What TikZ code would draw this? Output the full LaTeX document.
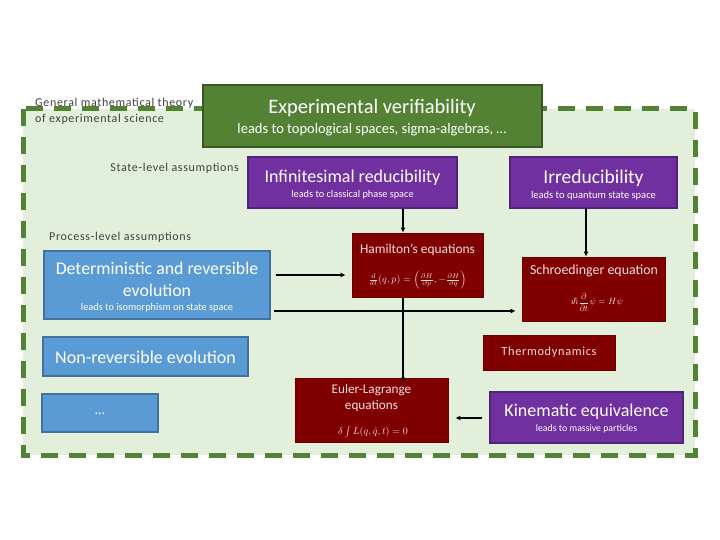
\documentclass[tikz,border=0pt]{standalone}
\usepackage{fontspec}
\setmainfont{Carlito}
\newfontfamily\spacedfont{Carlito}[LetterSpace=5.5]
\usetikzlibrary{arrows.meta}
\definecolor{dashgreen}{RGB}{84,130,53}
\definecolor{bgfill}{RGB}{226,239,218}
\definecolor{vgreen}{RGB}{84,130,53}
\definecolor{vgreenb}{RGB}{56,87,35}
\definecolor{vpurple}{RGB}{112,48,160}
\definecolor{vpurpleb}{RGB}{82,34,118}
\definecolor{vred}{RGB}{128,0,0}
\definecolor{vredb}{RGB}{105,0,0}
\definecolor{vblue}{RGB}{91,155,213}
\definecolor{vblueb}{RGB}{65,113,156}
\definecolor{labelgray}{RGB}{64,64,64}
\definecolor{pinktext}{RGB}{242,222,221}
\newcommand\fsz[2]{\fontsize{#1}{#2}\selectfont}
\tikzset{
  boxbase/.style={draw, inner sep=0pt},
  gbox/.style={boxbase, fill=vgreen, draw=vgreenb, line width=1.6pt},
  pbox/.style={boxbase, fill=vpurple, draw=vpurpleb, line width=1.2pt},
  rbox/.style={boxbase, fill=vred, draw=vredb, line width=0.8pt},
  bbox/.style={boxbase, fill=vblue, draw=vblueb, line width=1.2pt},
  wtxt/.style={text=white, inner sep=0pt},
  ptxt/.style={text=pinktext, inner sep=0pt},
  ltxt/.style={text=labelgray, inner sep=0pt, font=\spacedfont\fsz{12}{14}},
  conn/.style={black, line width=1.3pt, -{Latex[length=5pt,width=5pt]}},
}
\begin{document}
\begin{tikzpicture}[x=1pt,y=-1pt]
\useasboundingbox (0,0) rectangle (720,540);
\fill[white] (0,0) rectangle (720,540);
% dashed region
\draw[dashgreen, fill=bgfill, line width=5pt, dash pattern=on 17pt off 11pt] (23,109) rectangle (695,455);

% labels
\node[ltxt, anchor=west, align=left, font=\spacedfont\fsz{12}{16}] (gen) at (35,111) {General mathematical theory\\of experimental science};
\node[ltxt, anchor=east] (state) at (239,168) {State-level assumptions};
\node[ltxt, anchor=west] (proc) at (49,237) {Process-level assumptions};

% green box
\node[gbox, minimum width=339pt, minimum height=62pt] (ver) at (372.5,116) {};
\node[wtxt, font=\fsz{20.5}{22}] (vert) at (372,108) {Experimental verifiability};
\node[wtxt, font=\fsz{14.5}{16}] (vers) at (372,130) {leads to topological spaces, sigma-algebras, …};

% purple boxes
\node[pbox, minimum width=209pt, minimum height=51pt] (inf) at (352.5,182.5) {};
\node[wtxt, font=\fsz{18}{20}] (inft) at (352.5,178) {Infinitesimal reducibility};
\node[wtxt, font=\fsz{10.3}{12}] (infs) at (352.5,195) {leads to classical phase space};

\node[pbox, minimum width=167pt, minimum height=51pt] (irr) at (593.5,182.5) {};
\node[wtxt, font=\fsz{19.5}{21}] (irrt) at (593.5,178) {Irreducibility};
\node[wtxt, font=\fsz{10.5}{12}] (irrs) at (593.5,196) {leads to quantum state space};

% blue boxes
\node[bbox, minimum width=226pt, minimum height=68pt] (det) at (157,285) {};
\node[wtxt, font=\fsz{17.8}{20}] (dett) at (157,268) {Deterministic and reversible};
\node[wtxt, font=\fsz{17.8}{20}] (dett2) at (157,290) {evolution};
\node[wtxt, font=\fsz{10.3}{12}] (dets) at (157,307.5) {leads to isomorphism on state space};

\node[bbox, minimum width=205pt, minimum height=39pt] (nonrev) at (145.5,356.5) {};
\node[wtxt, font=\fsz{18}{20}] (nonrevt) at (145.5,357) {Non-reversible evolution};

\node[bbox, minimum width=116pt, minimum height=38pt] (dots) at (100,413) {};
\node[wtxt, font=\fsz{14}{16}] (dotst) at (100,414) {…};

% red boxes
\node[rbox, minimum width=131pt, minimum height=64pt] (ham) at (417.5,265) {};
\node[ptxt, font=\fsz{13.4}{15}] (hamt) at (417.5,250) {Hamilton’s equations};
\node[ptxt, font=\fsz{9.8}{11}] (hame) at (417.5,280) {$\frac{d}{dt}(q,p)=\left(\frac{\partial H}{\partial p},-\frac{\partial H}{\partial q}\right)$};

\node[rbox, minimum width=143pt, minimum height=64pt] (sch) at (593.5,289) {};
\node[ptxt, font=\fsz{13.9}{15}] (scht) at (594,271) {Schroedinger equation};
\node[ptxt, font=\fsz{9}{10}] (sche) at (597,302) {$\imath\hbar{\displaystyle\frac{\partial}{\partial t}}\psi=H\psi$};

\node[rbox, minimum width=132pt, minimum height=35pt] (therm) at (549,352.5) {};
\node[ptxt, font=\spacedfont\fsz{12.3}{14}] (thermt) at (549,352) {Thermodynamics};

\node[rbox, minimum width=153pt, minimum height=64pt] (euler) at (371.5,410) {};
\node[ptxt, font=\fsz{13.2}{15}] (eulert) at (371.5,390) {Euler-Lagrange};
\node[ptxt, font=\fsz{13.2}{15}] (eulert2) at (371.5,406) {equations};
\node[ptxt, font=\fsz{10}{12}] (eulere) at (373,432) {$\delta\int L(q,\dot{q},t)=0$};

\node[pbox, minimum width=193pt, minimum height=51pt] (kin) at (586.5,417.5) {};
\node[wtxt, font=\fsz{18}{20}] (kint) at (586.5,412) {Kinematic equivalence};
\node[wtxt, font=\fsz{9.8}{11}] (kins) at (586.5,429) {leads to massive particles};

% connectors
\coordinate (c1) at (403,0);
\draw[conn] (inf.south -| c1) -- (ham.north -| c1);
\coordinate (c2) at (586,0);
\draw[conn] (irr.south -| c2) -- (sch.north -| c2);
\coordinate (c3) at (0,275);
\draw[conn] ([xshift=5pt]det.east |- c3) -- ([xshift=-6pt]ham.west |- c3);
\coordinate (c4) at (0,311);
\draw[conn] ([xshift=3pt]det.east |- c4) -- ([xshift=-6pt]sch.west |- c4);
\draw[conn] (ham.south -| c1) -- ([yshift=-5pt]euler.north -| c1);
\coordinate (c5) at (0,418);
\draw[conn] ([xshift=-7pt]kin.west |- c5) -- ([xshift=7pt]euler.east |- c5);
\end{tikzpicture}
\end{document}
